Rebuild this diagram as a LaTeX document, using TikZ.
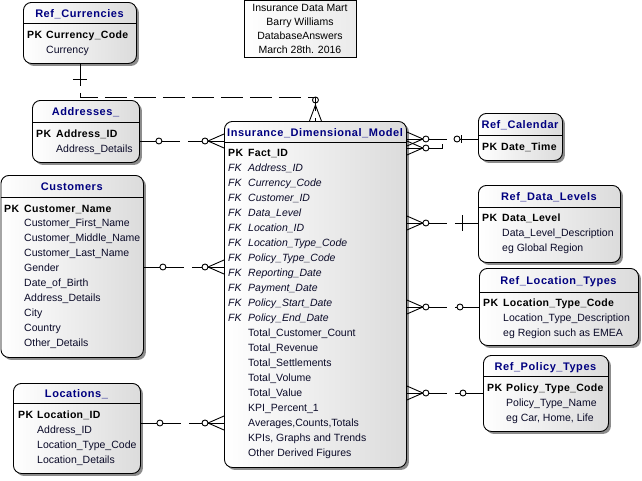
\documentclass[tikz,border=0pt]{standalone}
\usepackage{fontspec}
\setmainfont{Liberation Sans}
\usetikzlibrary{calc,shadows}

\definecolor{titleblue}{RGB}{0,0,128}
\definecolor{attrblue}{RGB}{10,10,40}

\begin{document}
\begin{tikzpicture} [
                % one unit is one pixel of the page, y runs downwards
                x=1pt, y=-1pt,
                table/.style = {draw, line width=0.9pt, rounded corners=8pt, left color=white, right color=black!14,
                                drop shadow={shadow xshift=2.5pt, shadow yshift=-2.5pt, fill=black!45, opacity=1},
                                anchor=north west, inner sep=0pt},
                title/.style = {font=\fontsize{11}{13}\selectfont\bfseries\addfontfeature{LetterSpace=5}, text=titleblue, anchor=base, inner sep=0pt},
                key/.style = {font=\fontsize{10.5}{12}\selectfont\bfseries\addfontfeature{LetterSpace=3}, anchor=base west, inner sep=0pt},
                attr/.style = {font=\fontsize{10.5}{12}\selectfont, text=attrblue, anchor=base west, inner sep=0pt},
                fkey/.style = {attr, font=\fontsize{10.5}{12}\selectfont\itshape},
                note/.style = {draw, line width=0.9pt, left color=white, right color=black!8, align=center,
                               font=\fontsize{10.5}{14}\selectfont, minimum width=112pt, minimum height=57pt, inner sep=0pt},
                rel/.style = {draw, line width=0.9pt, dash pattern=on 40pt off 8pt},
                crow/.style = {draw, line width=0.9pt},
                zero/.style = {draw, line width=0.9pt, fill=white}
            ]
            \useasboundingbox (0,0) rectangle (642,480);
            % First we draw the tables with their header lines and titles
            \foreach \name/\x/\y/\w/\h/\hy/\ttl in {
                cur/23/2/113/61/23/Ref\_Currencies, addr/32/100/107/62/122/Addresses\_,
                cust/0.5/175/142.5/182/197/Customers, loc/13/383/127/90/403/Locations\_,
                fact/224/121/182/346/142/Insurance\_Dimensional\_Model, cal/478/113/84/47/135/Ref\_Calendar,
                dl/478/185/142/77/207/Ref\_Data\_Levels, lt/479/268/159/77/292/Ref\_Location\_Types,
                pt/483/355/125/76/376/Ref\_Policy\_Types}
            {
                \node[table, minimum width=\w*1pt, minimum height=\h*1pt] (\name) at (\x,\y) {};
                \draw[line width=0.9pt] (\x,\hy) -- (\x+\w,\hy);
                \node[title] (\name-t) at (\x+\w/2, {(\y+\hy)/2+4.5}) {\ttl};
            }
            % the note
            \node[note] (note) at (300,28.5) {Insurance Data Mart\\Barry Williams\\DatabaseAnswers\\March 28th. 2016};
            % primary keys
            \foreach \ent/\px/\nx/\y/\txt in {
                cur/27/46/34/Currency\_Code, addr/36/56/133/Address\_ID, cust/4/24/208/Customer\_Name,
                loc/18/37/414/Location\_ID, fact/228/248/152/Fact\_ID, cal/482/501/146/Date\_Time,
                dl/482/502/217/Data\_Level, lt/483/503/302/Location\_Type\_Code, pt/487/506/387/Policy\_Type\_Code}
            {
                \node[key] (\ent-pk) at (\px,\y+4) {PK};
                \node[key] (\ent-id) at (\nx,\y+4) {\txt};
            }
            % other attributes
            \foreach \txt [count=\i] in {Currency}
                \node[attr] (cur-a\i) at (46,{34+15*\i+4}) {\txt};
            \foreach \txt [count=\i] in {Address\_Details}
                \node[attr] (addr-a\i) at (56,{133+15*\i+4}) {\txt};
            \foreach \txt [count=\i] in {Customer\_First\_Name, Customer\_Middle\_Name, Customer\_Last\_Name,
                                         Gender, Date\_of\_Birth, Address\_Details, City, Country, Other\_Details}
                \node[attr] (cust-a\i) at (24,{208+14.9*\i+4}) {\txt};
            \foreach \txt [count=\i] in {Address\_ID, Location\_Type\_Code, Location\_Details}
                \node[attr] (loc-a\i) at (37,{414+15*\i+4}) {\txt};
            \foreach \txt [count=\i] in {Data\_Level\_Description, eg Global Region}
                \node[attr] (dl-a\i) at (502,{217+15*\i+4}) {\txt};
            \foreach \txt [count=\i] in {Location\_Type\_Description, eg Region such as EMEA}
                \node[attr] (lt-a\i) at (503,{302+15*\i+4}) {\txt};
            \foreach \txt [count=\i] in {Policy\_Type\_Name, {eg Car, Home, Life}}
                \node[attr] (pt-a\i) at (506,{387+15*\i+4}) {\txt};
            % foreign keys and figures of the fact table
            \foreach \txt [count=\i] in {Address\_ID, Currency\_Code, Customer\_ID, Data\_Level, Location\_ID,
                                         Location\_Type\_Code, Policy\_Type\_Code, Reporting\_Date, Payment\_Date,
                                         Policy\_Start\_Date, Policy\_End\_Date}
            {
                \node[fkey] (fact-fk\i) at (228,{152+15*\i+4}) {FK};
                \node[fkey] (fact-a\i) at (248,{152+15*\i+4}) {\txt};
            }
            \foreach \txt [count=\i from 12] in {Total\_Customer\_Count, Total\_Revenue, Total\_Settlements,
                                         Total\_Volume, Total\_Value, KPI\_Percent\_1, {Averages,Counts,Totals},
                                         {KPIs, Graphs and Trends}, Other Derived Figures}
                \node[attr] (fact-a\i) at (248,{152+15*\i+4}) {\txt};
            % heights of the relationships
            \coordinate (r-cur) at (0,97);
            \coordinate (r-addr) at (0,141);
            \coordinate (r-cust) at (0,267);
            \coordinate (r-loc) at (0,423);
            \coordinate (r-cal) at (0,139);
            \coordinate (r-cal2) at (0,148);
            \coordinate (r-dl) at (0,223);
            \coordinate (r-lt) at (0,307);
            \coordinate (r-pt) at (0,393);
            % tables on the left of the fact table
            \foreach \ent in {addr, cust, loc}
            {
                \path[rel] (\ent.east |- r-\ent) -- (fact.west |- r-\ent);
                \path[crow] ($(fact.west |- r-\ent)+(-16,0)$) -- ($(fact.west |- r-\ent)+(0,-7)$)
                            ($(fact.west |- r-\ent)+(-16,0)$) -- ($(fact.west |- r-\ent)+(0,7)$);
                \path[zero] ($(fact.west |- r-\ent)+(-19,0)$) circle (3pt);
                \path[zero] ($(\ent.east |- r-\ent)+(19,0)$) circle (3pt);
            }
            % tables on the right of the fact table
            \path[rel] (fact.east |- r-cal2) -| ($(fact.east |- r-cal)+(36,0)$);
            \foreach \ent in {cal, dl, lt, pt, cal2}
            {
                \path[crow] ($(fact.east |- r-\ent)+(16,0)$) -- ($(fact.east |- r-\ent)+(0,-7)$)
                            ($(fact.east |- r-\ent)+(16,0)$) -- ($(fact.east |- r-\ent)+(0,7)$);
            }
            \foreach \ent in {cal, dl, lt, pt}
                \path[rel] (fact.east |- r-\ent) -- (\ent.west |- r-\ent);
            \foreach \ent in {cal, dl, lt, pt, cal2}
                \path[zero] ($(fact.east |- r-\ent)+(19,0)$) circle (3pt);
            \path[zero] ($(cal.west |- r-cal)+(-21,0)$) circle (3pt);
            \path[crow] ($(cal.west |- r-cal)+(-17,-4)$) -- ($(cal.west |- r-cal)+(-17,4)$);
            \path[crow] ($(dl.west |- r-dl)+(-16,-8)$) -- ($(dl.west |- r-dl)+(-16,8)$);
            \path[zero] ($(lt.west |- r-lt)+(-19,0)$) circle (3pt);
            \path[zero] ($(pt.west |- r-pt)+(-20,0)$) circle (3pt);
            % currencies come in from above
            \path[rel, dash pattern=on 22pt off 7pt] (cur.south) |- (fact.north |- r-cur) -- (fact.north);
            \path[crow] ($(cur.south)+(-7,16)$) -- ($(cur.south)+(7,16)$);
            \path[crow] ($(fact.north)+(0,-16)$) -- ($(fact.north)+(-6,0)$)
                        ($(fact.north)+(0,-16)$) -- ($(fact.north)+(6,0)$);
            \path[crow] ($(fact.north)+(0,-21)$) circle (3pt);
        \end{tikzpicture}
\end{document}
